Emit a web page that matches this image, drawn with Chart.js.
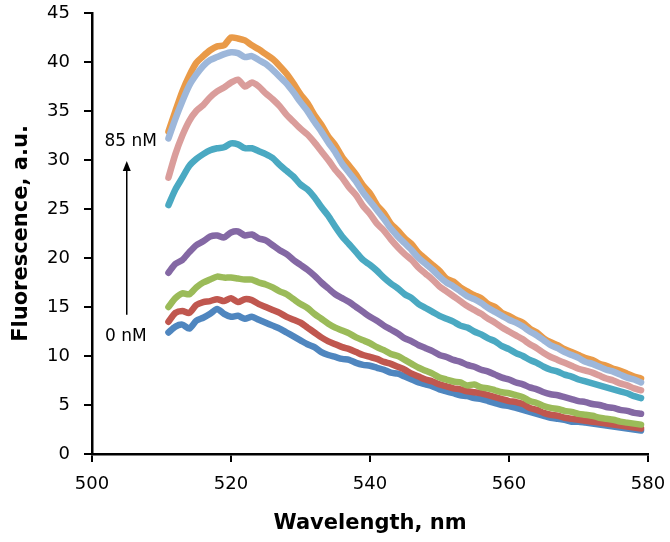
<!DOCTYPE html>
<html>
<head>
<meta charset="utf-8">
<script src="https://cdn.jsdelivr.net/npm/chart.js@4.4.1/dist/chart.umd.min.js"></script>
<style>
  html, body { margin: 0; padding: 0; background: #fff; }
  #wrap { width: 670px; height: 542px; position: relative; }
</style>
</head>
<body>
<div id="wrap"><canvas id="chart"></canvas></div>
<script>
  /* ── wavelengths, nm (511..579, 1 nm step) ── */
  var wavelengths = [];
  for (var w = 511; w <= 579; w++) wavelengths.push(w);

  /* ── fluorescence traces, a.u. ── */
  var series0nM = [12.4, 13.0, 13.2, 12.8, 13.6, 13.9, 14.3, 14.8, 14.3, 14.0, 14.1, 13.8, 14.0, 13.7, 13.4, 13.1, 12.8, 12.4, 12.0, 11.6,
    11.2, 10.9, 10.4, 10.1, 9.9, 9.7, 9.6, 9.3, 9.1, 9.0, 8.8, 8.6, 8.3, 8.2, 7.9, 7.6, 7.3, 7.1, 6.9, 6.6,
    6.4, 6.2, 6.0, 5.9, 5.7, 5.6, 5.4, 5.2, 5.0, 4.9, 4.7, 4.5, 4.3, 4.1, 3.9, 3.7, 3.6, 3.5, 3.3, 3.3,
    3.2, 3.1, 3.0, 2.9, 2.8, 2.7, 2.6, 2.5, 2.4];
  var seriesRed = [13.5, 14.4, 14.6, 14.4, 15.2, 15.5, 15.6, 15.8, 15.6, 15.9, 15.5, 15.8, 15.7, 15.3, 15.0, 14.7, 14.4, 14.0, 13.7, 13.4,
    12.9, 12.4, 11.9, 11.5, 11.2, 10.9, 10.7, 10.4, 10.1, 9.9, 9.7, 9.4, 9.2, 8.9, 8.6, 8.2, 7.9, 7.6, 7.4, 7.1,
    6.9, 6.7, 6.6, 6.4, 6.3, 6.2, 6.0, 5.8, 5.6, 5.4, 5.3, 5.1, 4.7, 4.5, 4.2, 4.0, 3.9, 3.7, 3.6, 3.5,
    3.4, 3.3, 3.2, 3.1, 3.0, 2.9, 2.8, 2.7, 2.6];
  var seriesGreen = [15.0, 15.9, 16.4, 16.3, 17.0, 17.5, 17.8, 18.1, 18.0, 18.0, 17.9, 17.8, 17.8, 17.5, 17.3, 17.0, 16.6, 16.3, 15.8, 15.3,
    14.9, 14.3, 13.8, 13.3, 12.9, 12.6, 12.3, 11.9, 11.6, 11.3, 10.9, 10.6, 10.2, 10.0, 9.6, 9.2, 8.8, 8.5, 8.2, 7.8,
    7.6, 7.4, 7.3, 7.0, 7.1, 6.8, 6.7, 6.5, 6.3, 6.2, 6.0, 5.8, 5.4, 5.2, 4.9, 4.7, 4.6, 4.4, 4.3, 4.1,
    4.0, 3.9, 3.7, 3.6, 3.5, 3.3, 3.2, 3.1, 3.0];
  var seriesPurple = [18.5, 19.4, 19.8, 20.6, 21.3, 21.7, 22.2, 22.3, 22.1, 22.6, 22.7, 22.3, 22.4, 22.0, 21.8, 21.3, 20.8, 20.4, 19.8, 19.3,
    18.8, 18.2, 17.5, 16.9, 16.3, 15.9, 15.5, 15.0, 14.5, 14.0, 13.6, 13.1, 12.7, 12.3, 11.8, 11.5, 11.1, 10.8, 10.5, 10.1,
    9.9, 9.6, 9.4, 9.1, 8.9, 8.6, 8.4, 8.1, 7.8, 7.6, 7.3, 7.1, 6.8, 6.6, 6.3, 6.1, 6.0, 5.8, 5.6, 5.4,
    5.3, 5.1, 5.0, 4.8, 4.7, 4.5, 4.4, 4.2, 4.1];
  var seriesTeal = [25.4, 27.0, 28.2, 29.4, 30.1, 30.6, 31.0, 31.2, 31.3, 31.7, 31.6, 31.2, 31.2, 30.9, 30.6, 30.2, 29.5, 28.9, 28.3, 27.5,
    27.0, 26.2, 25.2, 24.3, 23.2, 22.2, 21.4, 20.6, 19.8, 19.3, 18.7, 18.0, 17.4, 16.9, 16.3, 15.9, 15.3, 14.9, 14.5, 14.1,
    13.8, 13.5, 13.1, 12.9, 12.5, 12.2, 11.8, 11.5, 11.0, 10.7, 10.3, 10.0, 9.6, 9.3, 8.9, 8.6, 8.4, 8.1, 7.9, 7.6,
    7.4, 7.2, 7.0, 6.8, 6.6, 6.4, 6.2, 5.9, 5.7];
  var seriesPink = [28.2, 30.6, 32.5, 34.0, 35.0, 35.6, 36.4, 37.0, 37.4, 37.9, 38.2, 37.5, 37.9, 37.5, 36.8, 36.2, 35.5, 34.6, 33.9, 33.2,
    32.6, 31.8, 30.9, 30.0, 29.0, 28.2, 27.2, 26.4, 25.3, 24.5, 23.5, 22.8, 21.9, 21.1, 20.4, 19.8, 19.0, 18.4, 17.8, 17.1,
    16.6, 16.1, 15.6, 15.1, 14.7, 14.3, 13.8, 13.4, 12.9, 12.5, 12.1, 11.7, 11.2, 10.8, 10.3, 9.9, 9.6, 9.3, 9.0, 8.7,
    8.5, 8.3, 8.0, 7.7, 7.5, 7.2, 7.0, 6.7, 6.5];
  var seriesOrange = [32.9, 35.0, 37.0, 38.6, 39.9, 40.6, 41.2, 41.6, 41.7, 42.5, 42.4, 42.2, 41.7, 41.3, 40.8, 40.3, 39.6, 38.8, 37.8, 36.7,
    35.8, 34.6, 33.6, 32.4, 31.5, 30.3, 29.4, 28.5, 27.4, 26.6, 25.4, 24.6, 23.5, 22.8, 22.0, 21.4, 20.5, 19.9, 19.3, 18.7,
    17.9, 17.6, 17.0, 16.6, 16.2, 15.9, 15.3, 15.0, 14.4, 14.1, 13.7, 13.4, 12.8, 12.4, 11.8, 11.4, 11.1, 10.7, 10.4, 10.1,
    9.8, 9.6, 9.2, 9.0, 8.7, 8.5, 8.2, 7.9, 7.7];
  var series85nM = [32.2, 34.2, 36.0, 37.6, 38.7, 39.6, 40.2, 40.5, 40.8, 41.0, 40.9, 40.5, 40.6, 40.2, 39.8, 39.2, 38.5, 37.8, 36.9, 35.9,
    35.0, 33.9, 32.9, 31.8, 30.8, 29.6, 28.7, 27.8, 26.7, 25.8, 24.9, 24.0, 23.0, 22.2, 21.5, 20.8, 20.0, 19.4, 18.8, 18.1,
    17.5, 17.1, 16.6, 16.1, 15.8, 15.4, 14.9, 14.5, 14.1, 13.7, 13.4, 13.0, 12.5, 12.1, 11.6, 11.1, 10.8, 10.4, 10.1, 9.8,
    9.4, 9.2, 8.9, 8.6, 8.4, 8.1, 7.8, 7.6, 7.3];

  /* ── axis ticks and annotation anchors (data units) ── */
  var xTicks = [500, 520, 540, 560, 580];
  var yTicks = [0, 5, 10, 15, 20, 25, 30, 35, 40, 45];
  var arrowX = 505;
  var arrowFrom = 14.2, arrowTo = 29.9;
  var labelTop = "85 nM", labelTopY = 31.9;
  var labelBottom = "0 nM", labelBottomY = 12.0;

  var FONT = "'DejaVu Sans', Verdana, sans-serif";

  function toXY(values) {
    return values.map(function (v, i) { return { x: wavelengths[i], y: v }; });
  }

  // first dataset is drawn on top
  var traces = [
    { data: series85nM, color: "#9DB7DA" },
    { data: seriesOrange, color: "#E99A48" },
    { data: seriesPink, color: "#DA9D9B" },
    { data: seriesTeal, color: "#4AA9C2" },
    { data: seriesPurple, color: "#8468A4" },
    { data: seriesGreen, color: "#9BBB59" },
    { data: seriesRed, color: "#C0574F" },
    { data: series0nM, color: "#4F86BF" }
  ];

  var annotate = {
    id: "annotate",
    afterDraw: function (chart) {
      var ctx = chart.ctx, xs = chart.scales.x, ys = chart.scales.y;
      var ax = xs.getPixelForValue(arrowX);
      var y0 = ys.getPixelForValue(arrowFrom), y1 = ys.getPixelForValue(arrowTo);
      ctx.save();
      ctx.strokeStyle = "#000";
      ctx.fillStyle = "#000";
      ctx.lineWidth = 1.5;
      ctx.beginPath();
      ctx.moveTo(ax, y0);
      ctx.lineTo(ax, y1 + 8);
      ctx.stroke();
      ctx.beginPath();
      ctx.moveTo(ax, y1);
      ctx.lineTo(ax - 4, y1 + 10);
      ctx.lineTo(ax + 4, y1 + 10);
      ctx.closePath();
      ctx.fill();
      ctx.font = "17px " + FONT;
      ctx.textAlign = "center";
      ctx.textBaseline = "middle";
      ctx.fillText(labelTop, ax + 4, ys.getPixelForValue(labelTopY));
      ctx.fillText(labelBottom, ax - 1, ys.getPixelForValue(labelBottomY));
      ctx.restore();
    }
  };

  new Chart(document.getElementById("chart"), {
    type: "line",
    data: {
      datasets: traces.map(function (t) {
        return {
          data: toXY(t.data),
          borderColor: t.color,
          backgroundColor: t.color,
          borderWidth: 6.5,
          pointRadius: 0,
          tension: 0.25,
          borderCapStyle: "round",
          borderJoinStyle: "round",
          fill: false
        };
      })
    },
    options: {
      responsive: true,
      maintainAspectRatio: false,
      animation: false,
      layout: { padding: { top: 13, right: 22, left: 0, bottom: 0 } },
      plugins: { legend: { display: false }, tooltip: { enabled: false } },
      scales: {
        x: {
          type: "linear",
          min: 500, max: 580,
          afterBuildTicks: function (s) { s.ticks = xTicks.map(function (v) { return { value: v }; }); },
          afterFit: function (s) { s.height = 88; s.paddingLeft = 0; s.paddingRight = 0; },
          grid: { display: true, drawOnChartArea: false, drawTicks: true, tickLength: 8, color: "#000", lineWidth: 2 },
          border: { color: "#000", width: 2.5 },
          ticks: { color: "#000", font: { family: FONT, size: 18 }, padding: 12, maxRotation: 0 },
          title: { display: true, text: "Wavelength, nm", color: "#000", font: { family: FONT, size: 21, weight: "bold" }, padding: { top: 4, bottom: 6 } }
        },
        y: {
          min: 0, max: 45,
          afterBuildTicks: function (s) { s.ticks = yTicks.map(function (v) { return { value: v }; }); },
          afterFit: function (s) { s.width = 92; s.paddingTop = 0; s.paddingBottom = 0; },
          grid: { display: true, drawOnChartArea: false, drawTicks: true, tickLength: 8, color: "#000", lineWidth: 2 },
          border: { color: "#000", width: 2.5 },
          ticks: { color: "#000", font: { family: FONT, size: 18 }, padding: 14 },
          title: { display: true, text: "Fluorescence, a.u.", color: "#000", font: { family: FONT, size: 21, weight: "bold" }, padding: { top: 9, bottom: 9 } }
        }
      }
    },
    plugins: [annotate]
  });
</script>
</body>
</html>
